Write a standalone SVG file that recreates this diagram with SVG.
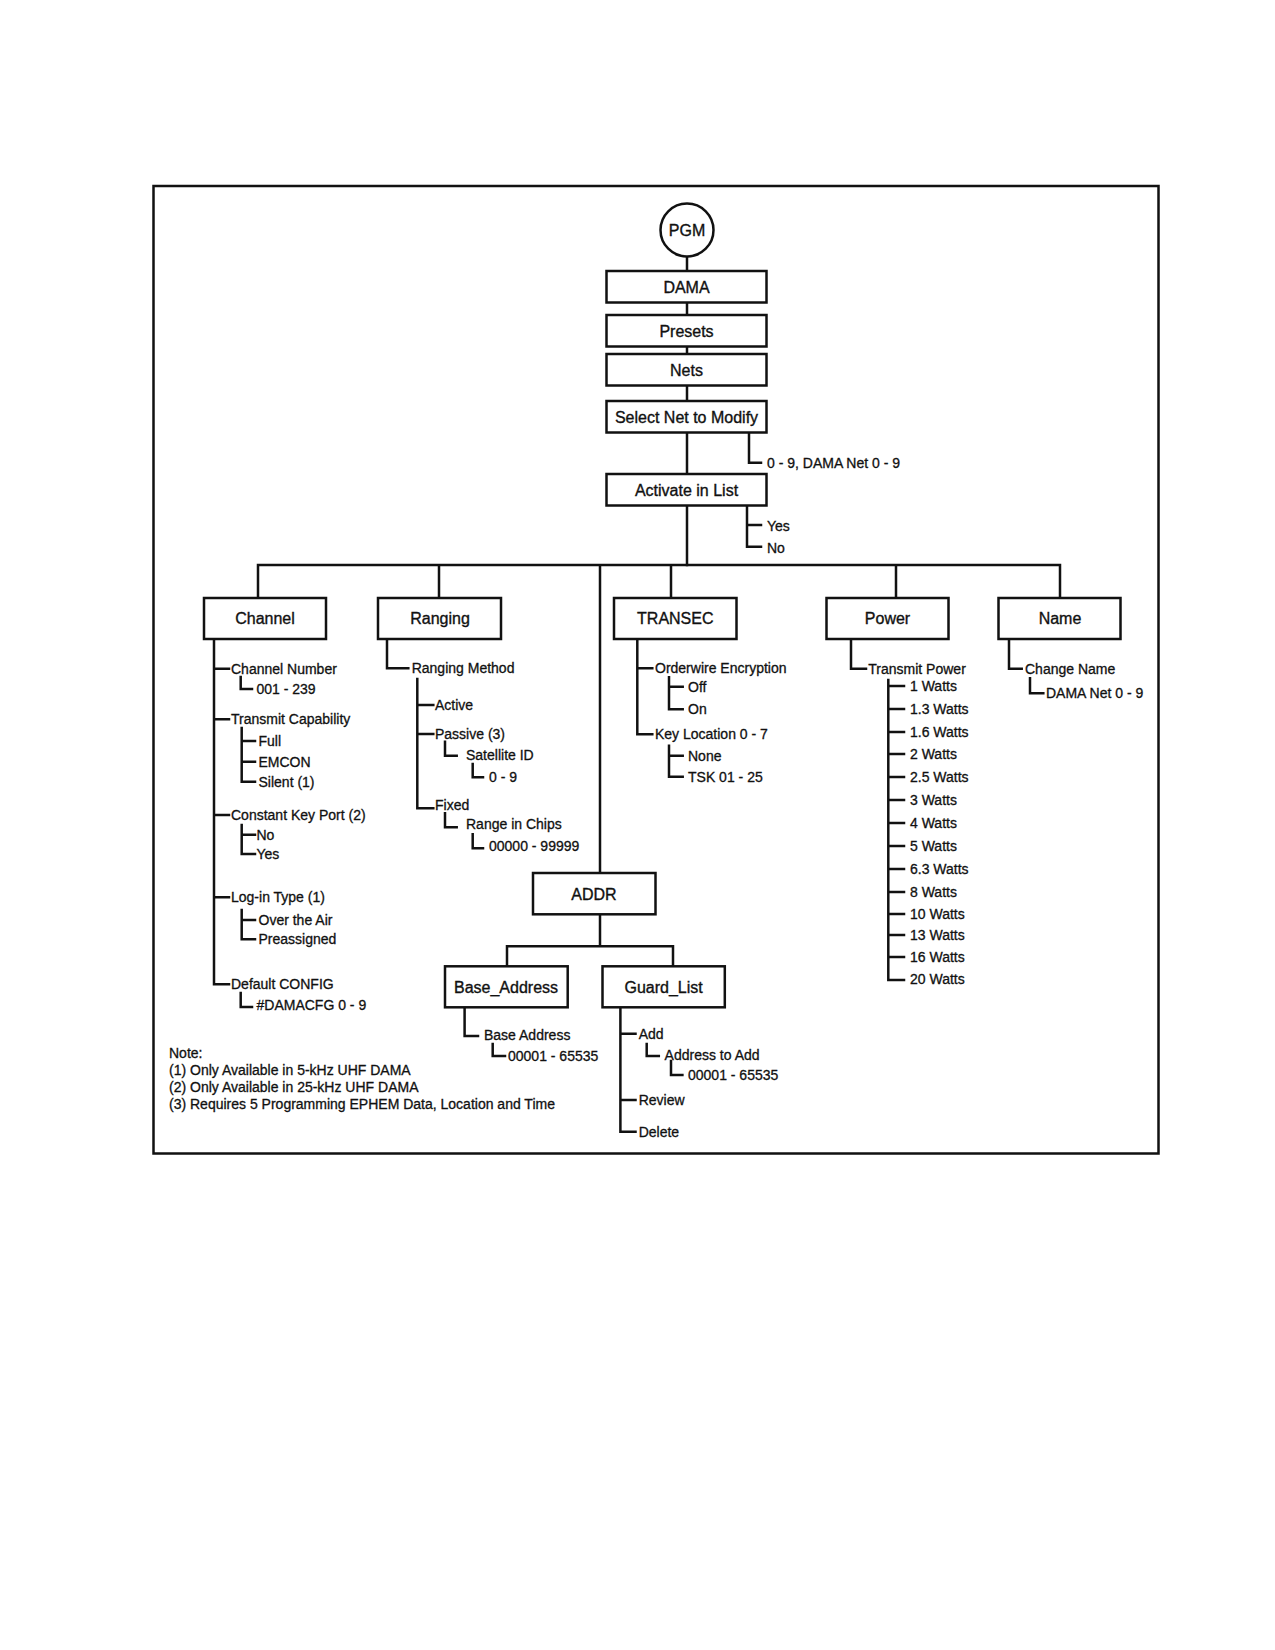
<svg xmlns="http://www.w3.org/2000/svg" width="1275" height="1650" viewBox="0 0 1275 1650">
<style>
.ln{fill:none;stroke:#111;stroke-width:2.5;stroke-linecap:square}
.bx{fill:#fff;stroke:#111;stroke-width:2.5}
.bt{font-family:"Liberation Sans",Arial,sans-serif;font-size:16px;fill:#111;stroke:#111;stroke-width:0.35;text-anchor:middle}
.t{font-family:"Liberation Sans",Arial,sans-serif;font-size:14px;fill:#111;stroke:#111;stroke-width:0.3}
</style>
<rect x="0" y="0" width="1275" height="1650" fill="#fff"/>
<rect x="153.5" y="186" width="1005" height="967.5" fill="none" stroke="#111" stroke-width="2.5"/>
<g id="connectors">
<path class="ln" d="M687 256 V565 M749 432 V462.7 H761 M747 506 V546.7 H761 M747 525 H761"/>
<path class="ln" d="M258 565 H1060 M258 565 V598 M439 565 V598 M600 565 V873 M671 565 V598 M896 565 V598 M1060 565 V598"/>
<path class="ln" d="M600 914 V946.3 M507 946.3 H673 M507 946.3 V966 M673 946.3 V966"/>
<path class="ln" d="M214 639 V984.3 H229 M214 668.7 H229 M214 719.3 H229 M214 815 H229 M214 897.3 H229"/>
<path class="ln" d="M240.7 677 V689 H252 M241.7 728 V781.7 H255 M241.7 741 H255 M241.7 761.7 H255 M241.7 825 V854 H255 M241.7 834.7 H255 M241.7 910 V939.3 H255 M241.7 920 H255 M240.7 993 V1007 H252"/>
<path class="ln" d="M387 639 V668.3 H408.3 M417.3 679 V808.3 H433.3 M417.3 705 H433.3 M417.3 734 H433.3 M445 741.7 V755.7 H456.7 M472.7 764 V777.3 H483 M445 813.3 V827.3 H456.7 M472.7 834.3 V848.3 H483"/>
<path class="ln" d="M637.3 639 V734.3 H652.3 M637.3 668.3 H652.3 M669 677.3 V709.3 H682.7 M669 686.7 H682.7 M669 745.7 V776.7 H682.7 M669 755.7 H682.7"/>
<path class="ln" d="M851 639 V668.7 H866 M888.3 680 V980 H904 M888.3 686 H904 M888.3 709 H904 M888.3 732 H904 M888.3 754 H904 M888.3 777 H904 M888.3 800 H904 M888.3 823 H904 M888.3 846 H904 M888.3 869 H904 M888.3 892 H904 M888.3 914 H904 M888.3 935 H904 M888.3 957 H904"/>
<path class="ln" d="M1009 639 V668.7 H1021.7 M1030 678.3 V693.3 H1043.3"/>
<path class="ln" d="M464.6 1007 V1036 H478 M492.7 1044 V1056 H505 M620.4 1007 V1131.7 H635.5 M620.4 1033.7 H635.5 M620.4 1100 H635.5 M646.7 1044 V1056 H658.8 M671 1061 V1075 H682.4"/>
</g>
<g id="pgm"><circle cx="687" cy="230" r="26.5" fill="#fff" stroke="#111" stroke-width="2.5"/><text class="bt" x="687" y="236">PGM</text></g>
<g id="dama"><rect class="bx" x="606.5" y="271" width="160" height="31.5"/><text class="bt" x="686.5" y="292.5">DAMA</text></g>
<g id="presets"><rect class="bx" x="606.5" y="315" width="160" height="31.5"/><text class="bt" x="686.5" y="336.5">Presets</text></g>
<g id="nets"><rect class="bx" x="606.5" y="354" width="160" height="31.5"/><text class="bt" x="686.5" y="375.5">Nets</text></g>
<g id="select"><rect class="bx" x="606.5" y="401" width="160" height="31.5"/><text class="bt" x="686.5" y="422.5">Select Net to Modify</text></g>
<g id="select-opts"><text class="t" x="767" y="467.5">0 - 9, DAMA Net 0 - 9</text></g>
<g id="activate"><rect class="bx" x="606.5" y="474" width="160" height="31.5"/><text class="bt" x="686.5" y="495.5">Activate in List</text></g>
<g id="activate-opts"><text class="t" x="767" y="530.5">Yes</text><text class="t" x="767" y="553">No</text></g>
<g id="channel"><rect class="bx" x="204" y="598" width="122" height="41"/><text class="bt" x="265" y="624">Channel</text></g>
<g id="channel-items">
<text class="t" x="231" y="673.5">Channel Number</text>
<text class="t" x="256.5" y="693.5">001 - 239</text>
<text class="t" x="231" y="724">Transmit Capability</text>
<text class="t" x="258.5" y="746">Full</text>
<text class="t" x="258.5" y="766.5">EMCON</text>
<text class="t" x="258.5" y="786.5">Silent (1)</text>
<text class="t" x="231" y="820">Constant Key Port (2)</text>
<text class="t" x="256.5" y="839.5">No</text>
<text class="t" x="256.5" y="859">Yes</text>
<text class="t" x="231" y="902">Log-in Type (1)</text>
<text class="t" x="258.5" y="925">Over the Air</text>
<text class="t" x="258.5" y="944">Preassigned</text>
<text class="t" x="231" y="989">Default CONFIG</text>
<text class="t" x="256.5" y="1010">#DAMACFG 0 - 9</text>
</g>
<g id="ranging"><rect class="bx" x="378" y="598" width="123" height="41"/><text class="bt" x="440" y="624">Ranging</text></g>
<g id="ranging-items">
<text class="t" x="411.7" y="673">Ranging Method</text>
<text class="t" x="435" y="710">Active</text>
<text class="t" x="435" y="739">Passive (3)</text>
<text class="t" x="466" y="759.5">Satellite ID</text>
<text class="t" x="489" y="781.5">0 - 9</text>
<text class="t" x="435" y="809.5">Fixed</text>
<text class="t" x="466" y="828.5">Range in Chips</text>
<text class="t" x="489" y="850.5">00000 - 99999</text>
</g>
<g id="transec"><rect class="bx" x="614" y="598" width="122.5" height="41"/><text class="bt" x="675.3" y="624">TRANSEC</text></g>
<g id="transec-items">
<text class="t" x="655" y="673">Orderwire Encryption</text>
<text class="t" x="688" y="691.5">Off</text>
<text class="t" x="688" y="714">On</text>
<text class="t" x="655" y="739">Key Location 0 - 7</text>
<text class="t" x="688" y="760.5">None</text>
<text class="t" x="688" y="781.5">TSK 01 - 25</text>
</g>
<g id="power"><rect class="bx" x="826.5" y="598" width="122" height="41"/><text class="bt" x="887.5" y="624">Power</text></g>
<g id="power-items">
<text class="t" x="868.3" y="673.5">Transmit Power</text>
<text class="t" x="910" y="691">1 Watts</text>
<text class="t" x="910" y="714">1.3 Watts</text>
<text class="t" x="910" y="737">1.6 Watts</text>
<text class="t" x="910" y="759">2 Watts</text>
<text class="t" x="910" y="782">2.5 Watts</text>
<text class="t" x="910" y="805">3 Watts</text>
<text class="t" x="910" y="828">4 Watts</text>
<text class="t" x="910" y="851">5 Watts</text>
<text class="t" x="910" y="874">6.3 Watts</text>
<text class="t" x="910" y="897">8 Watts</text>
<text class="t" x="910" y="919">10 Watts</text>
<text class="t" x="910" y="940">13 Watts</text>
<text class="t" x="910" y="962">16 Watts</text>
<text class="t" x="910" y="984">20 Watts</text>
</g>
<g id="name"><rect class="bx" x="998.5" y="598" width="122" height="41"/><text class="bt" x="1060" y="624">Name</text></g>
<g id="name-items">
<text class="t" x="1025" y="673.5">Change Name</text>
<text class="t" x="1046" y="698">DAMA Net 0 - 9</text>
</g>
<g id="addr"><rect class="bx" x="533" y="873" width="122.5" height="41.3"/><text class="bt" x="594" y="899.5">ADDR</text></g>
<g id="base-address"><rect class="bx" x="445" y="966.3" width="122.7" height="41"/><text class="bt" x="506" y="992.5">Base_Address</text></g>
<g id="base-address-items">
<text class="t" x="484" y="1039.5">Base Address</text>
<text class="t" x="508" y="1060.5">00001 - 65535</text>
</g>
<g id="guard-list"><rect class="bx" x="602.5" y="966.3" width="122.3" height="41"/><text class="bt" x="663.6" y="992.5">Guard_List</text></g>
<g id="guard-list-items">
<text class="t" x="638.7" y="1038.5">Add</text>
<text class="t" x="664.6" y="1059.5">Address to Add</text>
<text class="t" x="688" y="1079.5">00001 - 65535</text>
<text class="t" x="638.7" y="1105">Review</text>
<text class="t" x="638.7" y="1136.5">Delete</text>
</g>
<g id="notes">
<text class="t" x="169" y="1058">Note:</text>
<text class="t" x="169" y="1075">(1) Only Available in 5-kHz UHF DAMA</text>
<text class="t" x="169" y="1092">(2) Only Available in 25-kHz UHF DAMA</text>
<text class="t" x="169" y="1109">(3) Requires 5 Programming EPHEM Data, Location and Time</text>
</g>
</svg>
